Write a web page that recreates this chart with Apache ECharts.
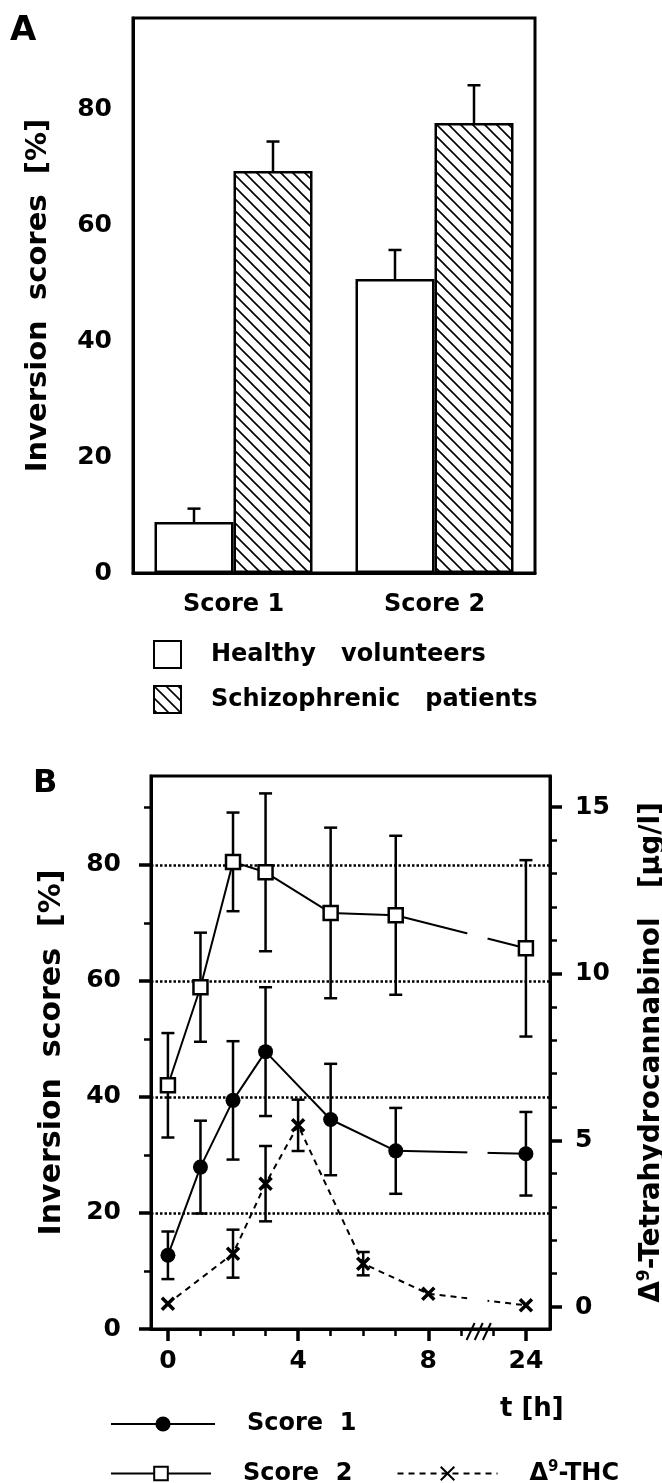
<!DOCTYPE html>
<html>
<head>
<meta charset="utf-8">
<script src="https://cdn.jsdelivr.net/npm/echarts@6/dist/echarts.min.js"></script>
<style>
html, body { margin: 0; background: #fff; }
#main { width: 662px; height: 1483px; }
</style>
</head>
<body>
<div id="main"></div>
<script>
// ---- panel A ----
var catsA = ['Score 1', 'Score 2'];
var healthy = [8.8, 50.7];
var healthyErr = [2.3, 5.0];
var schizo = [69.3, 77.6];
var schizoErr = [5.1, 6.5];
var yTicksA = [0, 20, 40, 60, 80];
var yMinorA = [10, 30, 50, 70, 90];

// ---- panel B ----
var timesScore = [0, 1, 2, 3, 5, 7, 24];
var score1 = [12.7, 27.9, 39.4, 47.8, 36.1, 30.7, 30.2];
var score1Err = [4.1, 8.0, 10.2, 11.1, 9.6, 7.4, 7.2];
var score2 = [42.0, 58.9, 80.5, 78.7, 71.7, 71.3, 65.6];
var score2Err = [9.0, 9.4, 8.5, 13.6, 14.7, 13.7, 15.2];
var timesThc = [0, 2, 3, 4, 6, 8, 24];
var thc = [0.1, 1.6, 3.7, 5.45, 1.3, 0.4, 0.05];
var thcErr = [0, 0.72, 1.13, 0.77, 0.35, 0, 0];
var xMajorB = [0, 4, 8, 24];
var xMinorB = [1, 2, 3, 5, 6, 7, 9, 10];
var yTicksB = [0, 20, 40, 60, 80];
var yMinorB = [10, 30, 50, 70, 90];
var rTicksB = [0, 5, 10, 15];
var rMinorB = [1, 2, 3, 4, 6, 7, 8, 9, 11, 12, 13, 14];

// broken time axis: everything after 10 h is squeezed, 24 h sits one step after 10
var BREAK_AT = 10;
var GAP = [9.2, 9.82];
function xPos(t) { return t > BREAK_AT ? BREAK_AT + 1 : t; }

var FONT = 'DejaVu Sans';
var BAR_W = 79;

function hatch() {
  var c = document.createElement('canvas');
  c.width = 12; c.height = 12;
  var g = c.getContext('2d');
  g.fillStyle = '#fff';
  g.fillRect(0, 0, 12, 12);
  g.strokeStyle = '#000';
  g.lineWidth = 1.6;
  g.beginPath();
  g.moveTo(-2, -2); g.lineTo(14, 14);
  g.moveTo(-2, 10); g.lineTo(2, 14);
  g.moveTo(10, -2); g.lineTo(14, 2);
  g.stroke();
  return c;
}

function txt(size) {
  return { color: '#000', fontFamily: FONT, fontWeight: 'bold', fontSize: size };
}

var black = { color: '#000', width: 3 };

function errBars(params, api) {
  var x = api.value(0), y = api.value(1), e = api.value(2);
  if (!e) return null;
  var t = api.coord([x, y + e]), b = api.coord([x, y - e]);
  var st = { stroke: '#000', lineWidth: 2.5 };
  return {
    type: 'group',
    children: [
      { type: 'line', shape: { x1: t[0], y1: t[1], x2: b[0], y2: b[1] }, style: st },
      { type: 'line', shape: { x1: t[0] - 6.5, y1: t[1], x2: t[0] + 6.5, y2: t[1] }, style: st },
      { type: 'line', shape: { x1: b[0] - 6.5, y1: b[1], x2: b[0] + 6.5, y2: b[1] }, style: st }
    ]
  };
}

function barErr(params, api) {
  var p = api.coord([api.value(0), api.value(1)]);
  var t = api.coord([api.value(0), api.value(1) + api.value(2)]);
  var x = p[0] + api.value(3) * BAR_W / 2;
  var st = { stroke: '#000', lineWidth: 2.5 };
  return {
    type: 'group',
    children: [
      { type: 'line', shape: { x1: x, y1: p[1], x2: x, y2: t[1] }, style: st },
      { type: 'line', shape: { x1: x - 6.5, y1: t[1], x2: x + 6.5, y2: t[1] }, style: st }
    ]
  };
}

// white cut where a line crosses the axis break
function gapCut(params, api) {
  var p1 = api.coord([api.value(0), api.value(1)]);
  var p2 = api.coord([api.value(2), api.value(3)]);
  var xa = api.coord([GAP[0], api.value(1)])[0];
  var xb = api.coord([GAP[1], api.value(1)])[0];
  function yAt(x) { return p1[1] + (p2[1] - p1[1]) * (x - p1[0]) / (p2[0] - p1[0]); }
  return { type: 'line', shape: { x1: xa, y1: yAt(xa), x2: xb, y2: yAt(xb) },
    style: { stroke: '#fff', lineWidth: 6 } };
}

function pts(times, vals) {
  return times.map(function (t, i) { return [xPos(t), vals[i]]; });
}
function errPts(times, vals, errs) {
  return times.map(function (t, i) { return [xPos(t), vals[i], errs[i]]; });
}
function crossing(times, vals) {
  var out = [];
  for (var i = 1; i < times.length; i++) {
    if (xPos(times[i - 1]) < GAP[0] && xPos(times[i]) > GAP[1]) {
      out.push([xPos(times[i - 1]), vals[i - 1], xPos(times[i]), vals[i]]);
    }
  }
  return out;
}

var noLine = { show: false, onZero: false };

var chart = echarts.init(document.getElementById('main'));
var option = {
  backgroundColor: '#fff',
  animation: false,
  grid: [
    { left: 133, top: 18, width: 402, height: 555, show: true, borderColor: '#000', borderWidth: 3, outerBoundsMode: 'none' },
    { left: 151, top: 776, width: 399, height: 553, show: true, borderColor: '#000', borderWidth: 3, outerBoundsMode: 'none' }
  ],
  legend: [
    {
      data: ['Healthy volunteers', 'Schizophrenic patients'],
      orient: 'vertical', left: 153, top: 640, padding: 0, icon: 'rect',
      itemWidth: 27, itemHeight: 27, itemGap: 16, selectedMode: false,
      formatter: function (n) { return n.replace(' ', '   '); },
      textStyle: Object.assign(txt(24), { padding: [0, 0, 0, 25] })
    },
    {
      data: ['Score 1'],
      left: 110, top: 1412, padding: 0,
      itemWidth: 104, itemHeight: 19, selectedMode: false,
      formatter: function () { return 'Score  1'; },
      textStyle: Object.assign(txt(24), { padding: [0, 0, 0, 27] })
    },
    {
      data: ['Score 2', 'THC'],
      left: 110, top: 1460, padding: 0,
      itemWidth: 100, itemHeight: 17, itemGap: 44, selectedMode: false,
      formatter: function (n) { return n === 'THC' ? '{a|Δ}{s|9}{a|-THC}' : 'Score  2'; },
      textStyle: Object.assign(txt(24), {
        padding: [0, 0, 0, 27],
        rich: { a: txt(24), s: Object.assign(txt(15), { padding: [0, 0, 12, 0] }) }
      })
    }
  ],
  xAxis: [
    {
      gridIndex: 0, type: 'category', data: catsA, position: 'bottom',
      axisLine: { onZero: false, lineStyle: black }, axisTick: { show: false },
      axisLabel: Object.assign(txt(24), { margin: 20 })
    },
    {
      gridIndex: 1, type: 'value', min: -0.52, max: 11.74, position: 'bottom',
      axisLine: { onZero: false, lineStyle: black }, splitLine: { show: false },
      axisTick: { customValues: xMajorB.map(xPos), length: 12, lineStyle: { color: '#000', width: 3.5 } },
      axisLabel: Object.assign(txt(25), {
        customValues: xMajorB.map(xPos), margin: 20,
        formatter: function (v) { return v === xPos(24) ? '24' : String(v); }
      })
    },
    {
      gridIndex: 1, type: 'value', min: -0.52, max: 11.74, position: 'bottom',
      axisLine: noLine, splitLine: { show: false }, axisLabel: { show: false },
      axisTick: { customValues: xMinorB, length: 7, lineStyle: { color: '#000', width: 2.5 } }
    }
  ],
  yAxis: [
    {
      gridIndex: 0, type: 'value', min: 0, max: 95.7, position: 'left',
      axisLine: { show: true, onZero: false, lineStyle: black }, splitLine: { show: false },
      axisTick: { customValues: yTicksA, length: 12, lineStyle: { color: '#000', width: 3.5 } },
      axisLabel: Object.assign(txt(25), { customValues: yTicksA, margin: 21 }),
      name: 'Inversion  scores  [%]', nameLocation: 'middle', nameGap: 80, nameRotate: 90,
      nameTextStyle: txt(29)
    },
    {
      gridIndex: 0, type: 'value', min: 0, max: 95.7, position: 'left',
      axisLine: noLine, splitLine: { show: false }, axisLabel: { show: false },
      axisTick: { customValues: yMinorA, length: 7, lineStyle: { color: '#000', width: 2.5 } }
    },
    {
      gridIndex: 1, type: 'value', min: 0, max: 95.3, interval: 20, position: 'left',
      axisLine: { show: true, onZero: false, lineStyle: black },
      splitLine: { show: true, lineStyle: { color: '#000', width: 2.5, type: [2.5, 2] } },
      axisTick: { customValues: yTicksB, length: 12, lineStyle: { color: '#000', width: 3.5 } },
      axisLabel: Object.assign(txt(25), { customValues: yTicksB, margin: 30 }),
      name: 'Inversion  scores  [%]', nameLocation: 'middle', nameGap: 84, nameRotate: 90,
      nameTextStyle: txt(30)
    },
    {
      gridIndex: 1, type: 'value', min: 0, max: 95.3, position: 'left',
      axisLine: noLine, splitLine: { show: false }, axisLabel: { show: false },
      axisTick: { customValues: yMinorB, length: 7, lineStyle: { color: '#000', width: 2.5 } }
    },
    {
      gridIndex: 1, type: 'value', position: 'right', min: -0.66, max: 15.93,
      axisLine: { show: true, onZero: false, lineStyle: black }, splitLine: { show: false },
      axisTick: { customValues: rTicksB, length: 12, lineStyle: { color: '#000', width: 3.5 } },
      axisLabel: Object.assign(txt(25), { customValues: rTicksB, margin: 25 }),
      name: '{a|Δ}{s|9}{a|-Tetrahydrocannabinol   [µg/l]}', nameLocation: 'middle', nameGap: 86, nameRotate: 90,
      nameTextStyle: Object.assign(txt(28), {
        rich: { a: txt(28), s: Object.assign(txt(17), { padding: [0, 0, 14, 0] }) }
      })
    },
    {
      gridIndex: 1, type: 'value', position: 'right', min: -0.66, max: 15.93,
      axisLine: noLine, splitLine: { show: false }, axisLabel: { show: false },
      axisTick: { customValues: rMinorB, length: 7, lineStyle: { color: '#000', width: 2.5 } }
    }
  ],
  series: [
    {
      name: 'Healthy volunteers', type: 'bar', xAxisIndex: 0, yAxisIndex: 0,
      data: healthy, barWidth: BAR_W, barGap: '0%',
      itemStyle: { color: '#fff', borderColor: '#000', borderWidth: 2.5 }
    },
    {
      name: 'Schizophrenic patients', type: 'bar', xAxisIndex: 0, yAxisIndex: 0,
      data: schizo, barWidth: BAR_W, barGap: '0%',
      itemStyle: { color: { image: hatch(), repeat: 'repeat' }, borderColor: '#000', borderWidth: 2.5 }
    },
    {
      type: 'custom', xAxisIndex: 0, yAxisIndex: 0, renderItem: barErr,
      data: healthy.map(function (v, i) { return [i, v, healthyErr[i], -1]; })
        .concat(schizo.map(function (v, i) { return [i, v, schizoErr[i], 1]; }))
    },
    {
      type: 'custom', xAxisIndex: 1, yAxisIndex: 2, renderItem: errBars, z: 2,
      data: errPts(timesScore, score1, score1Err).concat(errPts(timesScore, score2, score2Err))
    },
    {
      type: 'custom', xAxisIndex: 1, yAxisIndex: 4, renderItem: errBars, z: 2,
      data: errPts(timesThc, thc, thcErr)
    },
    {
      name: 'THC', type: 'line', xAxisIndex: 1, yAxisIndex: 4, z: 3,
      data: pts(timesThc, thc),
      symbol: 'path://M0,0L10,10M10,0L0,10', symbolSize: 12,
      itemStyle: { color: 'rgba(0,0,0,0)', borderColor: '#000', borderWidth: 3.5 },
      lineStyle: { color: '#000', width: 2, type: [6, 5] }
    },
    {
      name: 'Score 1', type: 'line', xAxisIndex: 1, yAxisIndex: 2, z: 3,
      data: pts(timesScore, score1),
      symbol: 'circle', symbolSize: 15,
      itemStyle: { color: '#000' },
      lineStyle: { color: '#000', width: 2 }
    },
    {
      name: 'Score 2', type: 'line', xAxisIndex: 1, yAxisIndex: 2, z: 3,
      data: pts(timesScore, score2),
      symbol: 'rect', symbolSize: 14,
      itemStyle: { color: '#fff', borderColor: '#000', borderWidth: 2.5 },
      lineStyle: { color: '#000', width: 2 }
    },
    {
      type: 'custom', xAxisIndex: 1, yAxisIndex: 2, renderItem: gapCut, z: 4,
      encode: { x: [0, 2], y: [1, 3] },
      data: crossing(timesScore, score1).concat(crossing(timesScore, score2))
    },
    {
      type: 'custom', xAxisIndex: 1, yAxisIndex: 4, renderItem: gapCut, z: 4,
      encode: { x: [0, 2], y: [1, 3] },
      data: crossing(timesThc, thc)
    }
  ]
};
chart.setOption(option);

// panel letters, time-axis title and the break marks on the time axis
var g = [
  { type: 'text', left: 10, top: 14, style: Object.assign(txt(34), { text: 'A', fill: '#000' }) },
  { type: 'text', left: 33, top: 768, style: Object.assign(txt(32), { text: 'B', fill: '#000' }) },
  { type: 'text', left: 500, top: 1396, style: Object.assign(txt(26), { text: 't [h]', fill: '#000' }) }
];
[9.3, 9.55, 9.8].forEach(function (v) {
  var p = chart.convertToPixel({ xAxisIndex: 1, yAxisIndex: 2 }, [v, 0]);
  g.push({ type: 'line', shape: { x1: p[0] - 4, y1: p[1] + 11, x2: p[0] + 4, y2: p[1] - 6 },
    style: { stroke: '#000', lineWidth: 2 }, z: 10 });
});
chart.setOption({ graphic: g });
</script>
</body>
</html>
